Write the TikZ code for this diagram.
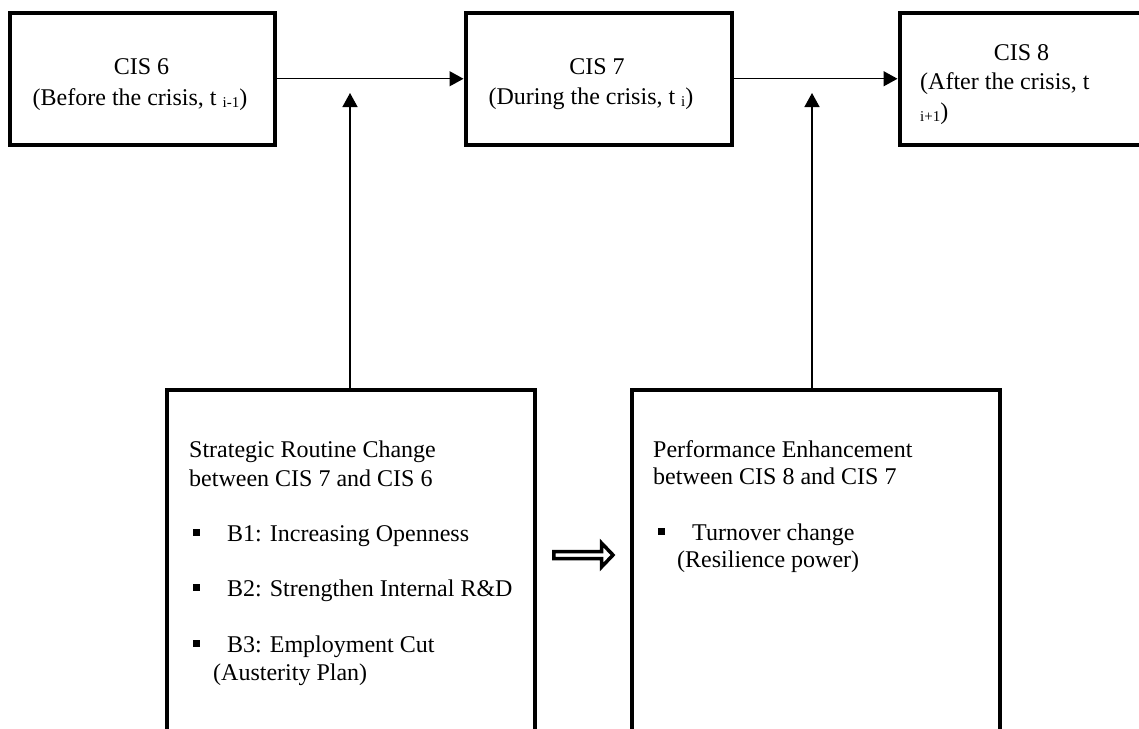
\documentclass[tikz,border=0pt]{standalone}
\usepackage{fontspec}
\setmainfont{Liberation Serif}
\usetikzlibrary{arrows.meta}
\newcommand{\mysub}[1]{\raisebox{-2.5pt}{\fontsize{15}{15}\selectfont #1}}
\newcommand{\blt}{\rule[5pt]{7pt}{7pt}\hspace{27pt}}
\tikzset{
  topbox/.style={draw, line width=4pt, minimum width=265pt, minimum height=132.5pt, inner sep=0pt},
  lowbox/.style={draw, line width=4pt, anchor=north, minimum width=368pt, minimum height=420pt, inner sep=0pt},
  arr/.style={line width=1.4pt, -{Triangle[length=14pt,width=15pt]}},
  txt/.style={anchor=base west, inner sep=0pt, font=\fontsize{24}{28}\selectfont},
  ctxt/.style={anchor=base, inner sep=0pt, font=\fontsize{24}{28}\selectfont},
  hollow/.style={line width=3.5pt, line join=miter}
}
\begin{document}
\begin{tikzpicture}[x=1pt,y=-1pt]
\clip (0,0) rectangle (1139,728);
% top boxes
\node[topbox] (cis6) at (142.75,78.75) {};
\node[topbox, minimum width=266pt] (cis7) at (598.5,78.75) {};
\node[topbox, minimum width=246pt] (cis8) at (1022.5,78.75) {};
\node[ctxt] (t6a) at (141.5,74) {CIS 6};
\node[ctxt] (t6b) at (140,105) {(Before the crisis, t \mysub{i-1})};
\node[ctxt] (t7a) at (597,74) {CIS 7};
\node[ctxt] (t7b) at (591,104) {(During the crisis, t \mysub{i})};
\node[ctxt] (t8a) at (1021.5,60) {CIS 8};
\node[txt] (t8b) at (920,89) {(After the crisis, t};
\node[txt] (t8c) at (920,119) {\mysub{i+1})};
% bottom boxes
\node[lowbox] (rc) at (351,387.5) {};
\node[lowbox] (pe) at (816,387.5) {};
\node[txt] (r1) at (189,457) {Strategic Routine Change};
\node[txt] (r2) at (189,486) {between CIS 7 and CIS 6};
\node[txt] (r3) at (193,541) {\blt B1: Increasing Openness};
\node[txt] (r4) at (193,596) {\blt B2: Strengthen Internal R\&D};
\node[txt] (r5) at (193,652) {\blt B3: Employment Cut};
\node[txt] (r6) at (213,680) {(Austerity Plan)};
\node[txt] (p1) at (653,457) {Performance Enhancement};
\node[txt] (p2) at (653,484) {between CIS 8 and CIS 7};
\node[txt] (p3) at (658,540) {\blt Turnover change};
\node[txt] (p4) at (677,567) {(Resilience power)};
% connectors
\draw[arr] (cis6) -- (cis7);
\draw[arr] (cis7) -- (cis8);
\coordinate (j1) at (350,93);
\coordinate (j2) at (812,93);
\draw[arr] (j1 |- rc.north) -- (j1);
\draw[arr] (j2 |- pe.north) -- (j2);
% hollow implication arrow
\draw[hollow] (553.75,551.5) -- (601.5,551.5) -- (601.5,543) -- (613,555) -- (601.5,567) -- (601.5,558.5) -- (553.75,558.5) -- cycle;
\end{tikzpicture}
\end{document}
